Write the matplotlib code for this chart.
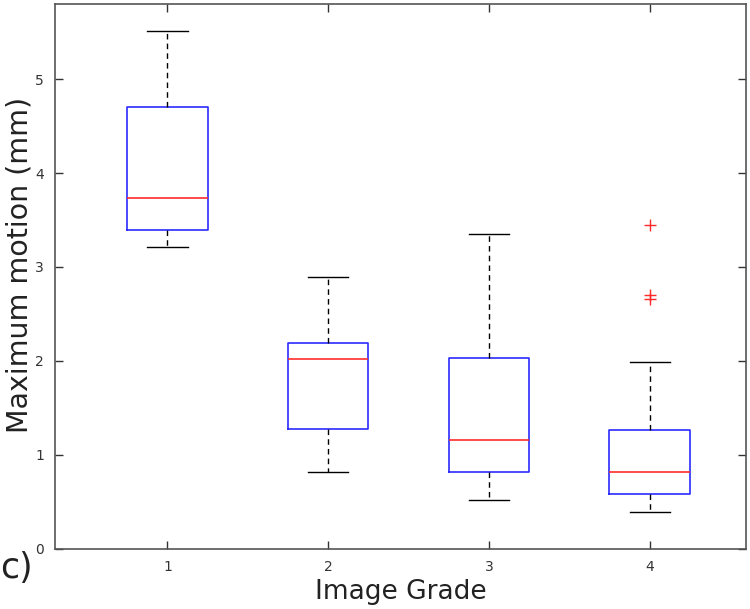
import matplotlib
matplotlib.use('Agg')
import matplotlib.pyplot as plt

# Box statistics (mm)
grades = [1, 2, 3, 4]
whisker_lo = [3.21, 0.82, 0.52, 0.39]
q1 = [3.39, 1.27, 0.81, 0.58]
medians = [3.73, 2.02, 1.16, 0.81]
q3 = [4.70, 2.19, 2.03, 1.26]
whisker_hi = [5.51, 2.89, 3.35, 1.99]
outliers = [[], [], [], [3.45, 2.70, 2.66]]

stats = []
for i in range(len(grades)):
    stats.append({'label': str(grades[i]), 'whislo': whisker_lo[i], 'q1': q1[i],
                  'med': medians[i], 'q3': q3[i], 'whishi': whisker_hi[i],
                  'fliers': outliers[i]})

fig = plt.figure(figsize=(7.5, 6.09), dpi=100)
ax = fig.add_axes([0.0733, 0.0993, 0.9214, 0.8941])

ax.bxp(stats, positions=grades, widths=0.5, capwidths=0.25,
       boxprops=dict(color='#2b2bff', linewidth=1.2),
       medianprops=dict(color='#ff2b2b', linewidth=1.2),
       whiskerprops=dict(color='black', linestyle=(0, (4, 3)), linewidth=1.0),
       capprops=dict(color='black', linewidth=1.0),
       flierprops=dict(marker='+', markeredgecolor='#ff2b2b', markersize=8,
                       linestyle='none'))

ax.set_xlim(0.3, 4.6)
ax.set_ylim(0, 5.8)
ax.set_yticks([0, 1, 2, 3, 4, 5])
ax.set_xticks(grades)
ax.set_xticklabels([str(g) for g in grades])
ax.tick_params(direction='in', length=6, width=1, top=True, right=True,
               labelsize=10, colors='#333333', pad=8)
for s in ax.spines.values():
    s.set_color('#555555')
    s.set_linewidth(1.2)

ax.set_ylabel('Maximum motion (mm)', fontsize=20.5, color='#222222')
ax.yaxis.set_label_coords(-0.031, 0.52)
ax.set_xlabel('Image Grade', fontsize=19, color='#222222', labelpad=4)
fig.text(0.022, 0.067, 'c)', fontsize=25, color='#222222', ha='center', va='center')

plt.savefig('out.png', dpi=100)
plt.close()
